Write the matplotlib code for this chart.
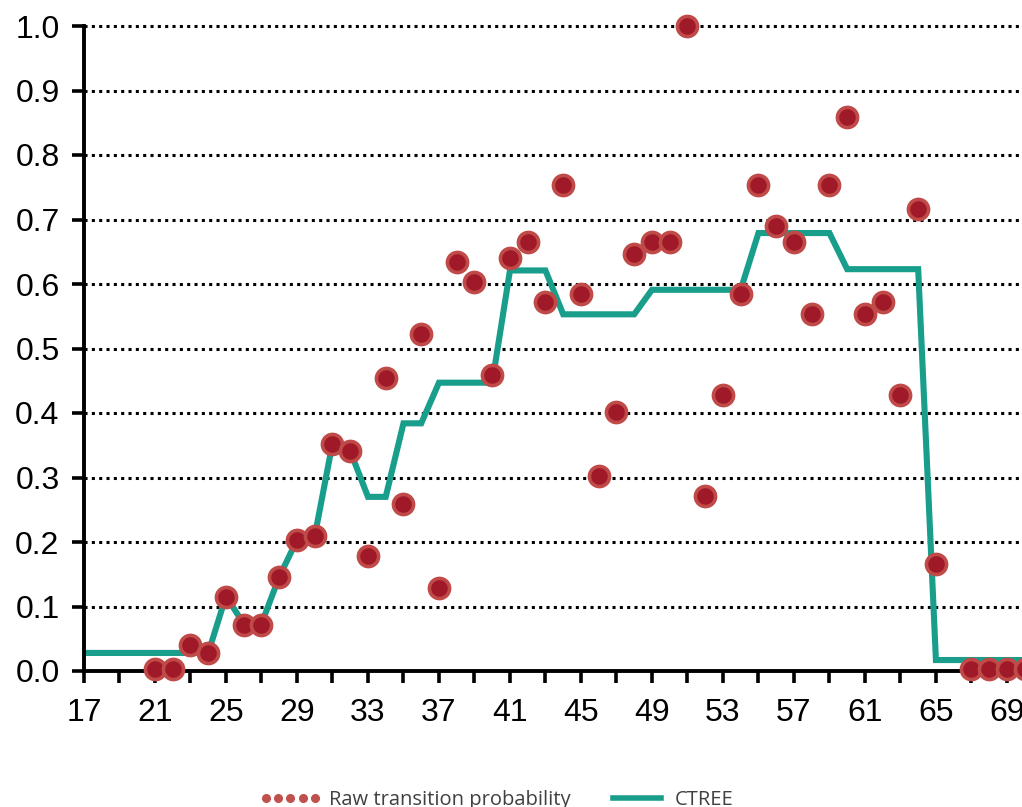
import matplotlib
matplotlib.use('Agg')
import matplotlib.pyplot as plt
from matplotlib.lines import Line2D

# 年龄 (x 轴类别)
ages_raw = [21, 22, 23, 24, 25, 26, 27, 28, 29, 30, 31, 32, 33, 34, 35, 36, 37, 38, 39, 40,
            41, 42, 43, 44, 45, 46, 47, 48, 49, 50, 51, 52, 53, 54, 55, 56, 57, 58, 59, 60,
            61, 62, 63, 64, 65, 67, 68, 69, 70]
raw_prob = [0.003, 0.003, 0.040, 0.028, 0.115, 0.071, 0.071, 0.146, 0.203, 0.209,
            0.352, 0.341, 0.178, 0.454, 0.259, 0.522, 0.129, 0.634, 0.603, 0.459,
            0.641, 0.665, 0.572, 0.753, 0.584, 0.303, 0.402, 0.647, 0.665, 0.665,
            1.000, 0.271, 0.428, 0.584, 0.753, 0.690, 0.665, 0.553, 0.753, 0.859,
            0.553, 0.572, 0.428, 0.716, 0.166, 0.003, 0.003, 0.003, 0.003]

ages_ctree = list(range(17, 71))
ctree = [0.028] * 8 + [0.116, 0.073, 0.073, 0.146, 0.203, 0.209, 0.353, 0.341,
                       0.270, 0.270, 0.384, 0.384, 0.447, 0.447, 0.447, 0.447,
                       0.621, 0.621, 0.621, 0.553, 0.553, 0.553, 0.553, 0.553,
                       0.591, 0.591, 0.591, 0.591, 0.591, 0.591,
                       0.679, 0.679, 0.679, 0.679, 0.679,
                       0.623, 0.623, 0.623, 0.623, 0.623,
                       0.017, 0.017, 0.017, 0.017, 0.017, 0.017]

x_tick_labels = list(range(17, 70, 4))
y_ticks = [0.0, 0.1, 0.2, 0.3, 0.4, 0.5, 0.6, 0.7, 0.8, 0.9, 1.0]

teal = '#1A9E8C'
dot_face = '#A01928'
dot_edge = '#C04A48'

fig = plt.figure(figsize=(10.22, 8.07), dpi=100)
ax = fig.add_axes([84 / 1022, 136 / 807, 1 - 84 / 1022, 645 / 807])

# 网格线 (点线)
for y in y_ticks[1:]:
    ax.axhline(y, color='black', lw=2.2, linestyle=(0, (1, 1.4)), zorder=1, clip_on=False)

# CTREE 折线
ax.plot(ages_ctree, ctree, color=teal, lw=4.4, solid_joinstyle='miter', zorder=2)

# 原始转移概率散点
ax.plot(ages_raw, raw_prob, linestyle='none', marker='o', ms=14.5, mfc=dot_face,
        mec=dot_edge, mew=2.6, zorder=3, clip_on=False)

ax.set_xlim(17, 69.85)
ax.set_ylim(0, 1.0)

ax.spines['top'].set_visible(False)
ax.spines['right'].set_visible(False)
ax.spines['left'].set_linewidth(2.8)
ax.spines['bottom'].set_linewidth(2.8)

ax.set_yticks(y_ticks)
ax.set_yticklabels(['%.1f' % v for v in y_ticks])
ax.set_xticks(list(range(17, 70, 2)))
ax.set_xticklabels([str(v) if v in x_tick_labels else '' for v in range(17, 70, 2)])

ax.tick_params(axis='y', length=8.6, width=2.6, pad=9, labelsize=23)
ax.tick_params(axis='x', length=8.6, width=2.6, pad=11, labelsize=23)
for lab in ax.get_xticklabels() + ax.get_yticklabels():
    lab.set_family('Liberation Sans')

# 图例
handles = [
    Line2D([], [], linestyle='none', marker='o', ms=5.5, color='#C0504D'),
    Line2D([], [], color=teal, lw=4),
]
leg = fig.legend(handles, ['Raw transition probability', 'CTREE'], loc='center',
                 bbox_to_anchor=(497 / 1022, 1 - 800 / 807), ncol=2, frameon=False,
                 numpoints=5, handlelength=3.0, handletextpad=0.4, columnspacing=1.8,
                 prop={'family': 'Open Sans', 'size': 14.5})
for t in leg.get_texts():
    t.set_color('#404040')

plt.savefig('out.png', dpi=100)
